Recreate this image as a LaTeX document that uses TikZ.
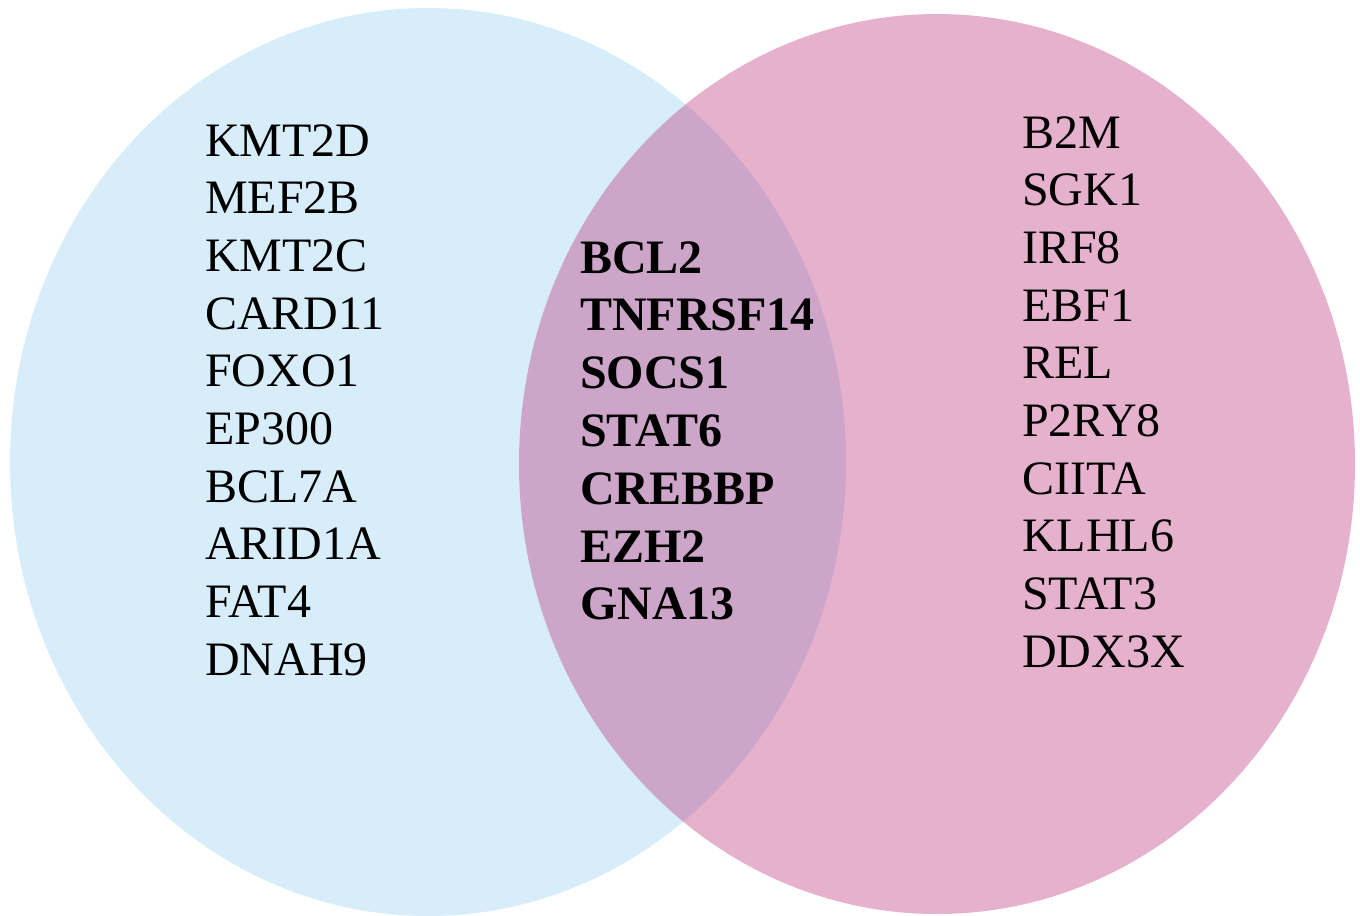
\documentclass[tikz,border=0pt]{standalone}
\usepackage{fontspec}
\setmainfont{Liberation Serif}
\usetikzlibrary{positioning}

\definecolor{setblue}{RGB}{215,237,250}
\definecolor{setpink}{RGB}{188,47,119}

\tikzset{
  leftset/.style={fill=setblue},
  rightset/.style={fill=setpink, fill opacity=0.375},
  gene/.style={anchor=base west, inner sep=0pt, font=\fontsize{36}{43}\selectfont},
  shared/.style={gene, font=\fontsize{36}{43}\selectfont\bfseries}
}

\begin{document}
\begin{tikzpicture}[x=0.75pt, y=-0.75pt]

  \useasboundingbox (0, 0) rectangle (1360, 915);

  % the two sets
  \fill [leftset] (428, 462) ellipse [x radius=418, y radius=454];
  \fill [rightset] (937, 464) ellipse [x radius=418, y radius=450];

  % left only
  \foreach \g [count=\i from 0] in {KMT2D, MEF2B, KMT2C, CARD11, FOXO1, EP300, BCL7A, ARID1A, FAT4, DNAH9}
    \node [gene] (left-\i) at (205, 156 + 57.7*\i) {\g};

  % both
  \foreach \g [count=\i from 0] in {BCL2, TNFRSF14, SOCS1, STAT6, CREBBP, EZH2, GNA13}
    \node [shared] (both-\i) at (580, 273 + 57.8*\i) {\g};

  % right only
  \foreach \g [count=\i from 0] in {B2M, SGK1, IRF8, EBF1, REL, P2RY8, CIITA, KLHL6, STAT3, DDX3X}
    \node [gene] (right-\i) at (1022, 148 + 57.7*\i) {\g};

\end{tikzpicture}
\end{document}
